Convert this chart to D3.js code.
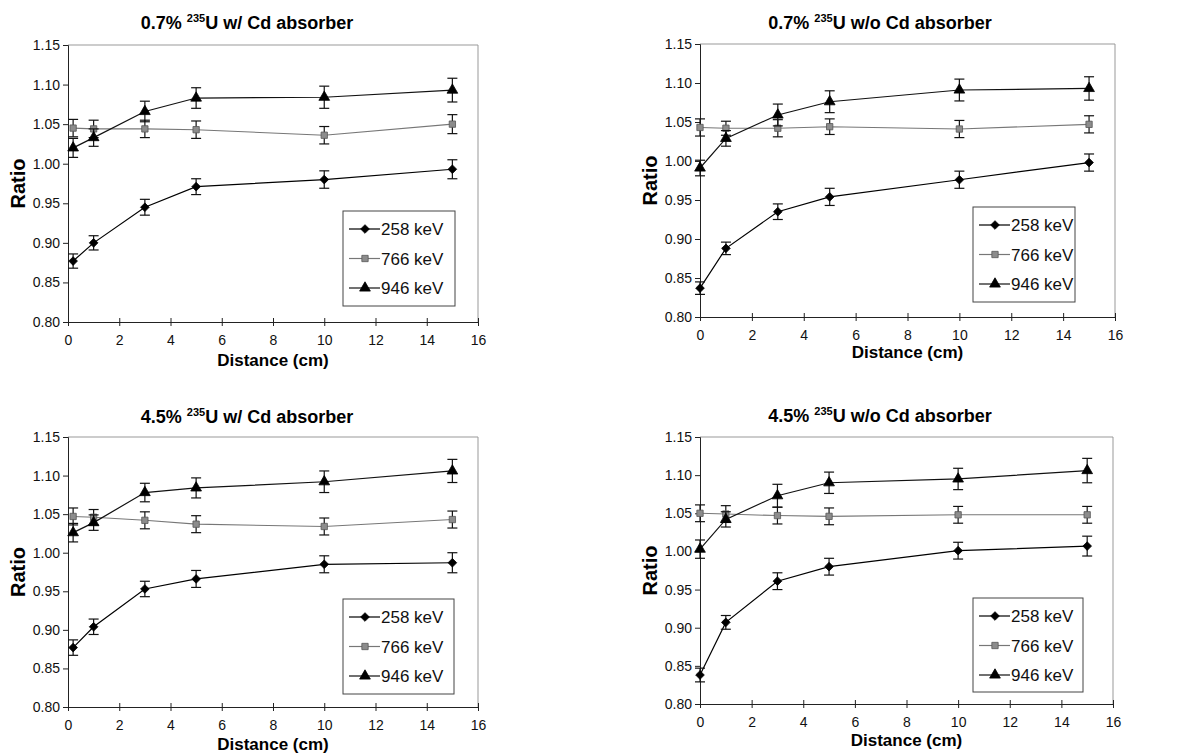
<!DOCTYPE html>
<html>
<head>
<meta charset="utf-8">
<script src="https://cdn.jsdelivr.net/npm/d3@7"></script>
<style>
  body { margin: 0; background: #fff; }
  svg { display: block; font-family: Arial, "Liberation Sans", sans-serif; }
  .tick text { font-size: 14px; fill: #111; }
</style>
</head>
<body>
<svg id="chart" width="1203" height="754"></svg>
<script>
// distances (cm)
const distWithCd = [0.2, 1, 3, 5, 10, 15];
const distNoCd = [0, 1, 3, 5, 10, 15];
const seriesNames = ["258 keV", "766 keV", "946 keV"];
const xTicks = [0, 2, 4, 6, 8, 10, 12, 14, 16];
const yTicks = [0.80, 0.85, 0.90, 0.95, 1.00, 1.05, 1.10, 1.15];

// 0.7% 235U w/ Cd absorber
const a258 = [0.877, 0.900, 0.945, 0.971, 0.980, 0.993];
const a766 = [1.045, 1.044, 1.044, 1.043, 1.036, 1.050];
const a946 = [1.020, 1.033, 1.066, 1.083, 1.084, 1.093];
const a258Err = [0.009, 0.009, 0.010, 0.010, 0.011, 0.012];
const a766Err = [0.011, 0.011, 0.011, 0.011, 0.011, 0.012];
const a946Err = [0.012, 0.011, 0.013, 0.013, 0.014, 0.015];

// 0.7% 235U w/o Cd absorber
const b258 = [0.837, 0.888, 0.935, 0.954, 0.976, 0.998];
const b766 = [1.043, 1.042, 1.042, 1.044, 1.041, 1.047];
const b946 = [0.991, 1.029, 1.059, 1.076, 1.091, 1.093];
const b258Err = [0.008, 0.008, 0.010, 0.011, 0.011, 0.011];
const b766Err = [0.011, 0.009, 0.011, 0.010, 0.011, 0.011];
const b946Err = [0.010, 0.010, 0.014, 0.014, 0.014, 0.015];

// 4.5% 235U w/ Cd absorber
const c258 = [0.877, 0.904, 0.953, 0.966, 0.985, 0.987];
const c766 = [1.047, 1.046, 1.042, 1.037, 1.034, 1.043];
const c946 = [1.026, 1.039, 1.078, 1.084, 1.092, 1.106];
const c258Err = [0.010, 0.010, 0.010, 0.011, 0.011, 0.013];
const c766Err = [0.011, 0.010, 0.011, 0.011, 0.011, 0.011];
const c946Err = [0.012, 0.010, 0.012, 0.013, 0.014, 0.015];

// 4.5% 235U w/o Cd absorber
const d258 = [0.838, 0.907, 0.961, 0.980, 1.001, 1.007];
const d766 = [1.050, 1.049, 1.047, 1.046, 1.048, 1.048];
const d946 = [1.003, 1.042, 1.073, 1.090, 1.095, 1.106];
const d258Err = [0.009, 0.009, 0.011, 0.011, 0.011, 0.013];
const d766Err = [0.011, 0.011, 0.011, 0.011, 0.011, 0.011];
const d946Err = [0.012, 0.010, 0.015, 0.014, 0.014, 0.016];

const panels = [
  { pre: "0.7% ", post: "U w/ Cd absorber", x: distWithCd,
    vals: [a258, a766, a946], errs: [a258Err, a766Err, a946Err],
    box: [68, 45, 478, 322], titleX: 247, titleY: 29, ratioX: 25, distY: 366,
    legend: [343, 211, 112, 95] },
  { pre: "0.7% ", post: "U w/o Cd absorber", x: distNoCd,
    vals: [b258, b766, b946], errs: [b258Err, b766Err, b946Err],
    box: [700, 44, 1115, 317], titleX: 880, titleY: 29, ratioX: 657, distY: 358,
    legend: [973, 207, 102, 95] },
  { pre: "4.5% ", post: "U w/ Cd absorber", x: distWithCd,
    vals: [c258, c766, c946], errs: [c258Err, c766Err, c946Err],
    box: [68, 437, 478, 707], titleX: 247, titleY: 423, ratioX: 25, distY: 750,
    legend: [343, 599, 111, 95] },
  { pre: "4.5% ", post: "U w/o Cd absorber", x: distNoCd,
    vals: [d258, d766, d946], errs: [d258Err, d766Err, d946Err],
    box: [700, 437, 1113, 704], titleX: 880, titleY: 422, ratioX: 657, distY: 746,
    legend: [973, 598, 110, 94] }
];

const symbols = [d3.symbolDiamond2, d3.symbolSquare, d3.symbolTriangle];
const symSize = [48, 40, 50];
const markFill = ["#000", "#8c8c8c", "#000"];
const markStroke = ["#000", "#555", "#000"];
const lineColor = ["#000", "#777", "#111"];

const svg = d3.select("#chart");
svg.append("rect").attr("width", 1203).attr("height", 754).attr("fill", "#fff");

panels.forEach(p => {
  const [x0, y0, x1, y1] = p.box;
  const x = d3.scaleLinear().domain([0, 16]).range([x0, x1]);
  const y = d3.scaleLinear().domain([0.80, 1.15]).range([y1, y0]);
  const g = svg.append("g");

  // frame (top + right are faint)
  g.append("path")
    .attr("d", `M${x0},${y0}H${x1}V${y1}`)
    .attr("fill", "none").attr("stroke", "#999").attr("stroke-width", 1);

  // y axis
  const yAx = g.append("g")
    .attr("transform", `translate(${x0},0)`)
    .call(d3.axisLeft(y).tickValues(yTicks).tickFormat(d3.format(".2f")).tickSize(5).tickPadding(3));
  yAx.select(".domain").attr("stroke", "#222");
  yAx.selectAll(".tick line").attr("stroke", "#222");

  // x axis, ticks cross the line
  const xAx = g.append("g")
    .attr("transform", `translate(0,${y1})`)
    .call(d3.axisBottom(x).tickValues(xTicks).tickSize(4).tickPadding(9).tickSizeOuter(0));
  xAx.select(".domain").attr("stroke", "#222");
  xAx.selectAll(".tick line").attr("y1", -4).attr("stroke", "#222");

  // title with superscript
  const t = g.append("text")
    .attr("x", p.titleX).attr("y", p.titleY)
    .attr("text-anchor", "middle")
    .attr("font-size", 18).attr("font-weight", "bold");
  t.append("tspan").text(p.pre);
  t.append("tspan").attr("font-size", 11).attr("dy", -7).text("235");
  t.append("tspan").attr("dy", 7).text(p.post);

  // axis titles
  g.append("text")
    .attr("transform", `translate(${p.ratioX},${(y0 + y1) / 2}) rotate(-90)`)
    .attr("text-anchor", "middle")
    .attr("font-size", 20).attr("font-weight", "bold")
    .text("Ratio");
  g.append("text")
    .attr("x", (x0 + x1) / 2).attr("y", p.distY)
    .attr("text-anchor", "middle")
    .attr("font-size", 17).attr("font-weight", "bold")
    .text("Distance (cm)");

  const line = d3.line().x(d => x(d[0])).y(d => y(d[1]));

  p.vals.forEach((vals, s) => {
    const pts = p.x.map((d, i) => [d, vals[i], p.errs[s][i]]);
    g.append("path")
      .datum(pts)
      .attr("d", line)
      .attr("fill", "none")
      .attr("stroke", lineColor[s])
      .attr("stroke-width", s === 1 ? 1.1 : 1.2);

    const eb = g.append("g").attr("stroke", "#111").attr("stroke-width", 1.2);
    pts.forEach(d => {
      const cx = x(d[0]), top = y(d[1] + d[2]), bot = y(d[1] - d[2]);
      eb.append("line").attr("x1", cx).attr("x2", cx).attr("y1", top).attr("y2", bot);
      eb.append("line").attr("x1", cx - 5).attr("x2", cx + 5).attr("y1", top).attr("y2", top);
      eb.append("line").attr("x1", cx - 5).attr("x2", cx + 5).attr("y1", bot).attr("y2", bot);
    });

    g.selectAll(null)
      .data(pts)
      .join("path")
      .attr("transform", d => `translate(${x(d[0])},${y(d[1])})`)
      .attr("d", d3.symbol(symbols[s], symSize[s]))
      .attr("fill", markFill[s])
      .attr("stroke", markStroke[s])
      .attr("stroke-width", 0.8);
  });

  // legend
  const [lx, ly, lw, lh] = p.legend;
  const lg = g.append("g").attr("transform", `translate(${lx},${ly})`);
  lg.append("rect").attr("width", lw).attr("height", lh)
    .attr("fill", "#fff").attr("stroke", "#444").attr("stroke-width", 1);
  seriesNames.forEach((name, s) => {
    const ry = 18 + s * 29.5;
    lg.append("line").attr("x1", 6).attr("x2", 37).attr("y1", ry).attr("y2", ry)
      .attr("stroke", lineColor[s]).attr("stroke-width", 1.2);
    lg.append("path")
      .attr("transform", `translate(22,${ry})`)
      .attr("d", d3.symbol(symbols[s], symSize[s]))
      .attr("fill", markFill[s]).attr("stroke", markStroke[s]).attr("stroke-width", 0.8);
    lg.append("text").attr("x", 38).attr("y", ry + 6)
      .attr("font-size", 17).attr("fill", "#111").text(name);
  });
});
</script>
</body>
</html>
